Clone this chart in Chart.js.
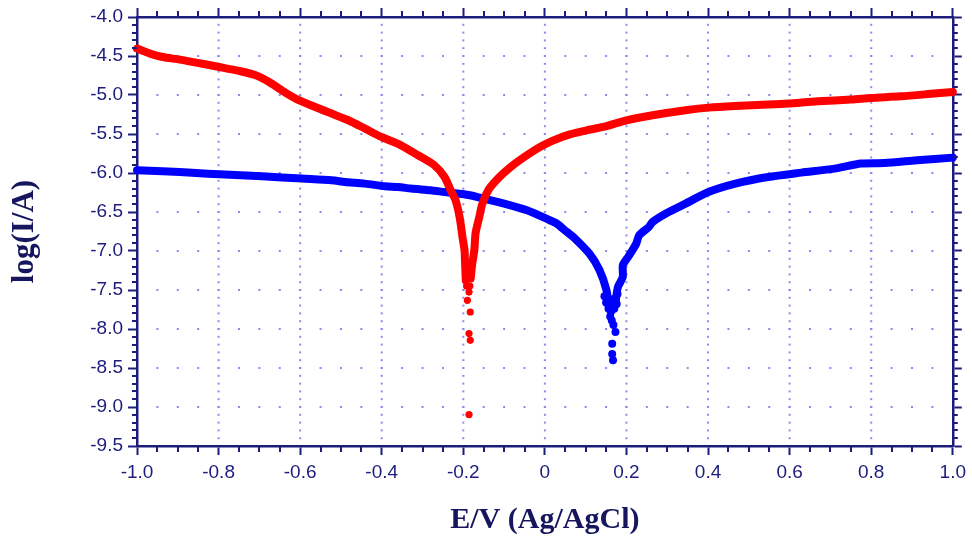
<!DOCTYPE html>
<html>
<head>
<meta charset="utf-8">
<script src="https://cdn.jsdelivr.net/npm/chart.js@4.4.1/dist/chart.umd.min.js"></script>
<style>
html,body{margin:0;padding:0;background:#ffffff;}
#wrap{width:972px;height:540px;position:relative;}
</style>
</head>
<body>
<div id="wrap"><canvas id="c" width="972" height="540"></canvas></div>
<script>
// ---- tick labels ----
const xTickValues = [-1.0,-0.8,-0.6,-0.4,-0.2,0,0.2,0.4,0.6,0.8,1.0];
const xTickLabels = ['-1.0','-0.8','-0.6','-0.4','-0.2','0','0.2','0.4','0.6','0.8','1.0'];
const yTickValues = [-9.5,-9.0,-8.5,-8.0,-7.5,-7.0,-6.5,-6.0,-5.5,-5.0,-4.5,-4.0];
const yTickLabels = ['-9.5','-9.0','-8.5','-8.0','-7.5','-7.0','-6.5','-6.0','-5.5','-5.0','-4.5','-4.0'];

// ---- series values: [E (V), log(I/A)] ----
const redCathodic = [[-1.000,-4.405],[-0.968,-4.469],[-0.937,-4.513],[-0.895,-4.546],[-0.855,-4.585],[-0.798,-4.641],[-0.749,-4.692],[-0.709,-4.747],[-0.676,-4.833],[-0.645,-4.940],[-0.611,-5.046],[-0.563,-5.154],[-0.523,-5.238],[-0.482,-5.324],[-0.441,-5.431],[-0.401,-5.538],[-0.353,-5.645],[-0.311,-5.773],[-0.271,-5.901],[-0.246,-6.051],[-0.231,-6.221],[-0.219,-6.350],[-0.209,-6.568],[-0.202,-6.824],[-0.197,-6.991],[-0.196,-7.119],[-0.194,-7.376]];
const redAnodic = [[-0.182,-7.354],[-0.178,-7.158],[-0.173,-6.991],[-0.170,-6.773],[-0.161,-6.568],[-0.153,-6.390],[-0.134,-6.183],[-0.085,-5.927],[-0.019,-5.687],[0.021,-5.581],[0.061,-5.504],[0.102,-5.453],[0.143,-5.410],[0.200,-5.324],[0.264,-5.260],[0.345,-5.196],[0.401,-5.162],[0.467,-5.141],[0.547,-5.123],[0.596,-5.110],[0.669,-5.081],[0.751,-5.059],[0.800,-5.038],[0.873,-5.017],[0.954,-4.982],[1.000,-4.962]];
const redScatter = [[-0.192,-7.45],[-0.184,-7.45],[-0.186,-7.526],[-0.190,-7.632],[-0.183,-7.782],[-0.186,-8.059],[-0.183,-8.145],[-0.186,-9.097]];

const blueCathodic = [[-1.000,-5.965],[-0.937,-5.978],[-0.855,-6.000],[-0.798,-6.017],[-0.693,-6.042],[-0.596,-6.072],[-0.523,-6.094],[-0.490,-6.115],[-0.441,-6.136],[-0.392,-6.171],[-0.360,-6.179],[-0.328,-6.200],[-0.280,-6.222],[-0.246,-6.244],[-0.198,-6.273],[-0.165,-6.308],[-0.100,-6.392],[-0.044,-6.478],[0.012,-6.606],[0.029,-6.649],[0.054,-6.756],[0.070,-6.821],[0.109,-7.033],[0.134,-7.247],[0.151,-7.504],[0.156,-7.70]];
const blueAnodic = [[0.172,-7.70],[0.179,-7.462],[0.191,-7.333],[0.191,-7.183],[0.204,-7.077],[0.224,-6.905],[0.231,-6.799],[0.255,-6.692],[0.264,-6.628],[0.300,-6.510],[0.345,-6.392],[0.401,-6.244],[0.467,-6.136],[0.547,-6.051],[0.629,-5.995],[0.710,-5.944],[0.775,-5.879],[0.832,-5.872],[0.912,-5.837],[1.000,-5.803]];
const blueScatter = [[0.146,-7.58],[0.150,-7.66],[0.154,-7.60],[0.156,-7.74],[0.160,-7.70],[0.162,-7.78],[0.166,-7.62],[0.168,-7.68],[0.170,-7.74],[0.174,-7.62],[0.176,-7.68],[0.178,-7.55],[0.160,-7.84],[0.164,-7.89],[0.168,-7.95],[0.173,-8.04],[0.165,-8.19],[0.165,-8.32],[0.167,-8.40]];

// ---- styles ----
const RED = '#ff0000';
const BLUE = '#0000ff';
const NAVY = '#1c1c7c';
const TITLE_NAVY = '#16165e';
const GRID_DOT = '#8a8af2';

const toXY = arr => arr.map(([x, y]) => ({x, y}));

function lineSet(data, color) {
  return {
    data: toXY(data), showLine: true, borderColor: color, backgroundColor: color,
    borderWidth: 8, pointRadius: 0, tension: 0.25, borderCapStyle: 'round',
    borderJoinStyle: 'round', clip: 6
  };
}
function dotSet(data, color, r) {
  return {
    data: toXY(data), showLine: false, borderColor: color, backgroundColor: color,
    borderWidth: 0, pointRadius: r, clip: 6
  };
}

const decor = {
  id: 'decor',
  beforeDatasetsDraw(chart) {
    const {ctx, scales: {x, y}} = chart;
    ctx.save();
    ctx.fillStyle = GRID_DOT;
    for (let i = 1; i < xTickValues.length - 1; i++) {
      const px = x.getPixelForValue(xTickValues[i]);
      for (let k = 1; k < 55; k++) {
        const py = y.getPixelForValue(-9.5 + k * 0.1);
        ctx.fillRect(px - 1, py - 1, 2, 2);
      }
    }
    for (let i = 1; i < yTickValues.length - 1; i++) {
      const py = y.getPixelForValue(yTickValues[i]);
      for (let k = 1; k < 40; k++) {
        const px = x.getPixelForValue(-1 + k * 0.05);
        ctx.fillRect(px - 1, py - 1, 2, 2);
      }
    }
    ctx.restore();
  },
  afterDraw(chart) {
    const {ctx, chartArea: a, scales: {x, y}} = chart;
    ctx.save();
    ctx.strokeStyle = NAVY;
    ctx.lineWidth = 2;
    ctx.beginPath();
    for (let k = 0; k <= 40; k++) {
      if (k % 4 === 0) continue;
      const px = Math.round(x.getPixelForValue(-1 + k * 0.05));
      ctx.moveTo(px, a.bottom); ctx.lineTo(px, a.bottom + 6);
      ctx.moveTo(px, a.top); ctx.lineTo(px, a.top - 6);
    }
    for (let k = 0; k <= 55; k++) {
      if (k % 5 === 0) continue;
      const py = Math.round(y.getPixelForValue(-9.5 + k * 0.1));
      ctx.moveTo(a.left, py); ctx.lineTo(a.left - 5, py);
      ctx.moveTo(a.right, py); ctx.lineTo(a.right + 5, py);
    }
    ctx.stroke();
    ctx.restore();
  }
};

const setXTicks = s => { s.ticks = xTickValues.map(v => ({value: v})); };
const setYTicks = s => { s.ticks = yTickValues.map(v => ({value: v})); };

new Chart(document.getElementById('c'), {
  type: 'scatter',
  data: {
    datasets: [
      lineSet(redCathodic, RED),
      lineSet(redAnodic, RED),
      dotSet(redScatter, RED, 3.6),
      lineSet(blueCathodic, BLUE),
      lineSet(blueAnodic, BLUE),
      dotSet(blueScatter, BLUE, 4)
    ]
  },
  options: {
    responsive: false,
    devicePixelRatio: 1,
    animation: false,
    events: [],
    layout: {padding: 0},
    plugins: {legend: {display: false}, tooltip: {enabled: false}},
    scales: {
      x: {
        type: 'linear', position: 'bottom', min: -1, max: 1,
        afterBuildTicks: setXTicks,
        afterFit: s => { s.height = 94; },
        grid: {display: true, drawOnChartArea: false, drawTicks: true, tickLength: 9, tickColor: NAVY, tickWidth: 2, color: NAVY},
        border: {display: true, color: NAVY, width: 2.5},
        ticks: {
          color: NAVY, padding: 6, maxRotation: 0, autoSkip: false,
          font: {family: "'Liberation Sans', Arial, sans-serif", size: 19},
          callback: (v, i) => xTickLabels[i]
        },
        title: {
          display: true, text: 'E/V (Ag/AgCl)', color: TITLE_NAVY,
          font: {family: "'Liberation Serif', 'Times New Roman', serif", size: 30, weight: 'bold'},
          padding: {top: 0, bottom: 2}
        }
      },
      x2: {
        type: 'linear', position: 'top', min: -1, max: 1,
        afterBuildTicks: setXTicks,
        afterFit: s => { s.height = 17; },
        grid: {display: true, drawOnChartArea: false, drawTicks: true, tickLength: 9, tickColor: NAVY, tickWidth: 2, color: NAVY},
        border: {display: true, color: NAVY, width: 2.5},
        ticks: {display: false}
      },
      y: {
        type: 'linear', position: 'left', min: -9.5, max: -4.0,
        afterBuildTicks: setYTicks,
        afterFit: s => { s.width = 137; },
        grid: {display: true, drawOnChartArea: false, drawTicks: true, tickLength: 9, tickColor: NAVY, tickWidth: 2, color: NAVY},
        border: {display: true, color: NAVY, width: 2.5},
        ticks: {
          color: NAVY, padding: 5, autoSkip: false,
          font: {family: "'Liberation Sans', Arial, sans-serif", size: 19},
          callback: (v, i) => yTickLabels[i]
        },
        title: {
          display: true, text: 'log(I/A)', color: TITLE_NAVY,
          font: {family: "'Liberation Serif', 'Times New Roman', serif", size: 31, weight: 'bold'},
          padding: {top: 6, bottom: 0}
        }
      },
      y2: {
        type: 'linear', position: 'right', min: -9.5, max: -4.0,
        afterBuildTicks: setYTicks,
        afterFit: s => { s.width = 13; },
        grid: {display: true, drawOnChartArea: false, drawTicks: true, tickLength: 9, tickColor: NAVY, tickWidth: 2, color: NAVY},
        border: {display: true, color: NAVY, width: 2.5},
        ticks: {display: false}
      }
    }
  },
  plugins: [decor]
});
</script>
</body>
</html>
